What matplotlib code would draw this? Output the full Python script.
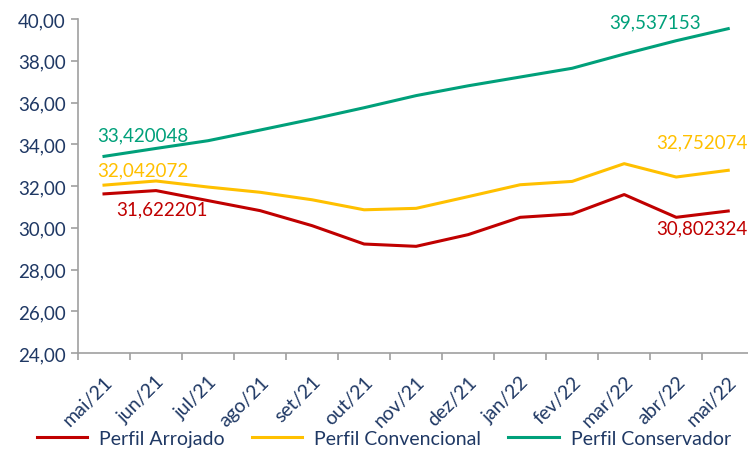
import matplotlib.pyplot as plt
from matplotlib.ticker import FuncFormatter, FixedLocator

plt.rcParams['font.family'] = ['Lato', 'DejaVu Sans']

# Data
months = ["mai/21", "jun/21", "jul/21", "ago/21", "set/21", "out/21", "nov/21",
          "dez/21", "jan/22", "fev/22", "mar/22", "abr/22", "mai/22"]
arrojado = [31.622201, 31.78, 31.30, 30.82, 30.10, 29.22, 29.11, 29.67, 30.50,
            30.66, 31.59, 30.50, 30.802324]
convencional = [32.042072, 32.24, 31.95, 31.70, 31.34, 30.86, 30.93, 31.49, 32.06,
                32.22, 33.07, 32.43, 32.752074]
conservador = [33.420048, 33.80, 34.17, 34.68, 35.20, 35.75, 36.33, 36.80, 37.22,
               37.64, 38.32, 38.96, 39.537153]

RED = "#C00000"
YELLOW = "#FFC000"
GREEN = "#00A07A"
NAVY = "#1F3864"

fig = plt.figure(figsize=(7.48, 4.52), dpi=100)
ax = fig.add_axes([78 / 748, 98 / 452, 670 / 748, 334 / 452])

x = list(range(len(months)))
ax.plot(x, arrojado, color=RED, lw=2.2, label="Perfil Arrojado")
ax.plot(x, convencional, color=YELLOW, lw=2.2, label="Perfil Convencional")
ax.plot(x, conservador, color=GREEN, lw=2.2, label="Perfil Conservador")

ax.set_ylim(24, 40)
ax.set_xlim(-0.5, 12.38)
ax.set_yticks(range(24, 41, 2))
ax.yaxis.set_major_formatter(FuncFormatter(lambda v, p: f"{v:.2f}".replace(".", ",")))

# category labels at centres, tick marks at boundaries
ax.set_xticks(x)
ax.set_xticklabels(months, rotation=45, ha="right", rotation_mode="anchor")
ax.tick_params(axis="x", length=0, pad=14, labelsize=14, labelcolor=NAVY)
ax.xaxis.set_minor_locator(FixedLocator([i - 0.5 for i in range(len(months) + 1)]))
ax.tick_params(axis="x", which="minor", length=5, color="#A0A0A0", width=1.2)
ax.tick_params(axis="y", length=5, color="#A0A0A0", width=1.2, labelsize=13.5,
               labelcolor=NAVY, pad=4)

for s in ["top", "right"]:
    ax.spines[s].set_visible(False)
for s in ["left", "bottom"]:
    ax.spines[s].set_color("#A0A0A0")
    ax.spines[s].set_linewidth(1.2)

# data labels at first and last points
def fmt(v):
    return f"{v:.6f}".replace(".", ",")

fs = 13.5
ax.annotate(fmt(conservador[0]), (0, conservador[0]), xytext=(-5, 9), textcoords="offset points",
            color=GREEN, fontsize=fs, ha="left", va="bottom")
ax.annotate(fmt(convencional[0]), (0, convencional[0]), xytext=(-5, 5), textcoords="offset points",
            color=YELLOW, fontsize=fs, ha="left", va="bottom")
ax.annotate(fmt(arrojado[0]), (0, arrojado[0]), xytext=(9, -5), textcoords="offset points",
            color=RED, fontsize=fs, ha="left", va="top")
ax.annotate(fmt(conservador[-1]), (12, conservador[-1]), xytext=(-20, -1), textcoords="offset points",
            color=GREEN, fontsize=fs, ha="right", va="bottom")
ax.annotate(fmt(convencional[-1]), (12, convencional[-1]), xytext=(14, 14), textcoords="offset points",
            color=YELLOW, fontsize=fs, ha="right", va="bottom")
ax.annotate(fmt(arrojado[-1]), (12, arrojado[-1]), xytext=(14, -6), textcoords="offset points",
            color=RED, fontsize=fs, ha="right", va="top")

leg = fig.legend(loc="lower center", bbox_to_anchor=(0.513, -0.03), ncol=3, frameon=False,
                 fontsize=14, handlelength=2.6, columnspacing=1.4, handletextpad=0.6)
for t in leg.get_texts():
    t.set_color(NAVY)

fig.savefig("out.png", dpi=100)
